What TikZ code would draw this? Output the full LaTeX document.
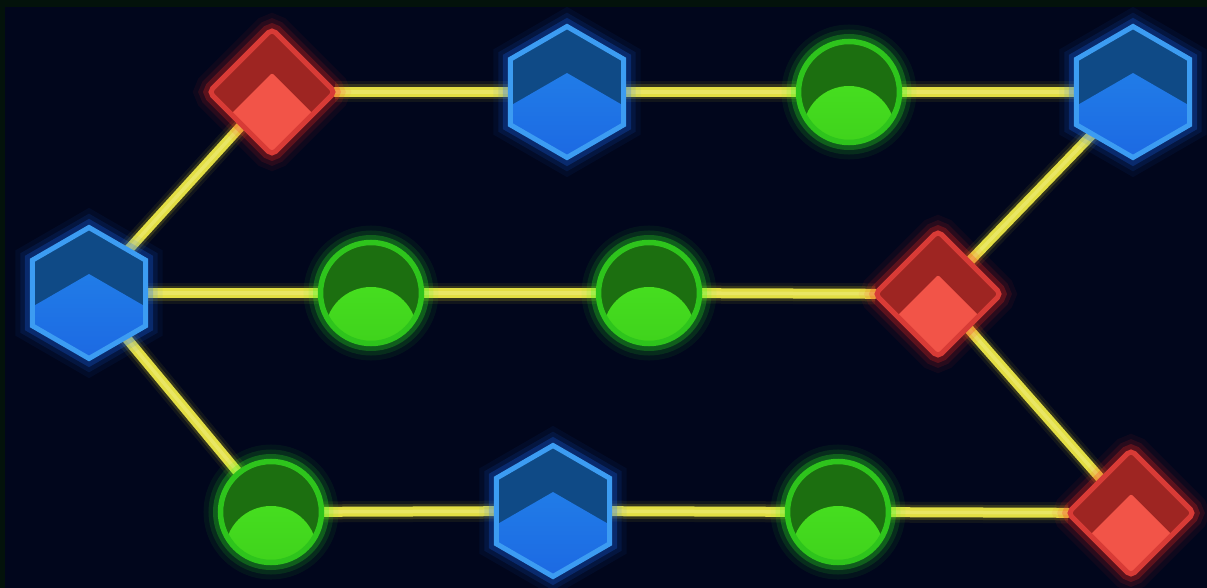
\documentclass[tikz,border=0pt]{standalone}
\usetikzlibrary{shapes.geometric,calc}
\pgfdeclarelayer{bg}
\pgfdeclarelayer{edges}
\pgfsetlayers{bg,edges,main}
\definecolor{bgcol}{HTML}{01061C}
\definecolor{framecol}{HTML}{03120B}
\definecolor{linecol}{HTML}{E2DE44}
\definecolor{linecore}{HTML}{EEEC7A}
\definecolor{lineglow}{HTML}{D8C820}
\definecolor{redborder}{HTML}{D83B36}
\definecolor{reddark}{HTML}{9E2522}
\definecolor{redlight}{HTML}{F25448}
\definecolor{redglow}{HTML}{FF2A20}
\definecolor{bluborder}{HTML}{3C9CF2}
\definecolor{bludark}{HTML}{0F4A86}
\definecolor{blulighttop}{HTML}{2386EA}
\definecolor{bluelightbot}{HTML}{1A5FE0}
\definecolor{bluglow}{HTML}{1A6CFF}
\definecolor{grnborder}{HTML}{2EC41C}
\definecolor{grndark}{HTML}{1C6F10}
\definecolor{grnlighttop}{HTML}{4AE622}
\definecolor{grnlightbot}{HTML}{3CCC1A}
\definecolor{grnglow}{HTML}{30FF20}
\begin{document}
\begin{tikzpicture}[x=1pt,y=1pt,
  glow/.style={preaction={draw=#1,line width=34pt,opacity=0.06},
               preaction={draw=#1,line width=24pt,opacity=0.11},
               preaction={draw=#1,line width=15pt,opacity=0.24}},
  redsq/.style={diamond, minimum width=126pt, minimum height=126pt, inner sep=0pt,
    outer sep=0pt, rounded corners=5pt, line width=5pt, draw=redborder, fill=reddark,
    glow=redglow,
    path picture={\fill[redlight, rounded corners=2pt]
      ([yshift=-44pt]path picture bounding box.north) --
      ([yshift=-44pt]path picture bounding box.east) --
      ([yshift=-44pt]path picture bounding box.south) --
      ([yshift=-44pt]path picture bounding box.west) -- cycle;}},
  hexbox/.style={regular polygon, regular polygon sides=6, regular polygon rotate=30,
    minimum size=131pt, inner sep=0pt, outer sep=0pt, line width=5pt, draw=bluborder,
    fill=bludark, glow=bluglow,
    path picture={\shade[top color=blulighttop, bottom color=bluelightbot]
      ($(path picture bounding box.center)+(0,-47)+(90:66)$) --
      ($(path picture bounding box.center)+(0,-47)+(150:66)$) --
      ($(path picture bounding box.center)+(0,-47)+(210:66)$) --
      ($(path picture bounding box.center)+(0,-47)+(270:66)$) --
      ($(path picture bounding box.center)+(0,-47)+(330:66)$) --
      ($(path picture bounding box.center)+(0,-47)+(30:66)$) -- cycle;}},
  grncirc/.style={circle, minimum size=101pt, inner sep=0pt, outer sep=0pt,
    line width=5.5pt, draw=grnborder, fill=grndark, glow=grnglow,
    path picture={\shade[top color=grnlighttop, bottom color=grnlightbot]
      ($(path picture bounding box.center)+(0,-40)$) circle[radius=46pt];}},
  link/.style={draw=linecol, line width=10pt, line cap=round,
    preaction={draw=lineglow,line width=21pt,opacity=0.08},
    preaction={draw=lineglow,line width=15pt,opacity=0.18},
    postaction={draw=linecore,line width=3.5pt,opacity=0.6}}
]
\useasboundingbox (0,0) rectangle (1207,-588);
\begin{pgfonlayer}{bg}
  \fill[bgcol] (0,0) rectangle (1207,-588);
  \fill[framecol] (0,0) rectangle (1207,-7);
  \fill[framecol] (0,0) rectangle (5,-588);
\end{pgfonlayer}
% top row
\node[redsq]   (A) at (272,-92)  {};
\node[hexbox]  (B) at (567,-92)  {};
\node[grncirc] (C) at (849,-92)  {};
\node[hexbox]  (D) at (1133,-92) {};
% middle row
\node[hexbox]  (E) at (89,-293)  {};
\node[grncirc] (F) at (371,-293) {};
\node[grncirc] (G) at (649,-293) {};
\node[redsq]   (H) at (938,-294) {};
% bottom row
\node[grncirc] (I) at (271,-512) {};
\node[hexbox]  (J) at (553,-511) {};
\node[grncirc] (K) at (838,-512) {};
\node[redsq]   (L) at (1131,-513) {};
\begin{pgfonlayer}{edges}
  \path[link] (A) -- (B);
  \path[link] (B) -- (C);
  \path[link] (C) -- (D);
  \path[link] (E) -- (A);
  \path[link] (E) -- (F);
  \path[link] (F) -- (G);
  \path[link] (G) -- (H);
  \path[link] (H) -- (D);
  \path[link] (E) -- (I);
  \path[link] (I) -- (J);
  \path[link] (J) -- (K);
  \path[link] (K) -- (L);
  \path[link] (H) -- (L);
\end{pgfonlayer}
\end{tikzpicture}
\end{document}
